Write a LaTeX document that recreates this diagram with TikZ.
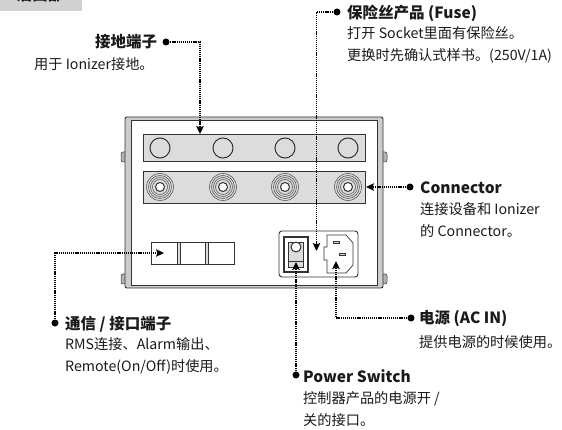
\documentclass[tikz,border=0pt]{standalone}
\usepackage{fontspec}
\setmainfont{Noto Sans CJK SC}
\usetikzlibrary{arrows.meta}
\definecolor{ink}{HTML}{1A1A1A}
\definecolor{panel}{HTML}{DCDCDC}
\definecolor{edge}{HTML}{333333}
\tikzset{
    heading/.style={anchor=west, inner sep=0pt, text=ink, font=\fontsize{15.5}{17}\selectfont\bfseries},
    detail/.style={anchor=west, inner sep=0pt, align=left, text=ink, font=\fontsize{14.2}{21.5}\selectfont},
    pin/.style={circle, fill=black, inner sep=0pt, minimum size=7pt},
    leader/.style={line width=1.2pt, dash pattern=on 1.2pt off 0.9pt, black},
    pointer/.style={leader, -{Stealth[length=8pt, width=7.5pt, inset=1.5pt]}},
    outline/.style={draw=edge, line width=0.9pt},
    ring/.style={draw=edge!80, line width=0.6pt},
    foot/.style={fill=gray!60, draw=edge, line width=0.5pt, rounded corners=2pt},
}
\begin{document}
\begin{tikzpicture}[x=1pt, y=-1pt]
    \useasboundingbox (0,0) rectangle (562,430);
    \def\binding {circle(13.5) circle(11.5) circle(9.5) circle(7.5)}

    % Header tab
    \fill[panel!95!black] (0,0) rectangle (82,11);
    \node[anchor=center, inner sep=0pt, text=ink, font=\fontsize{15.5}{17}\selectfont\bfseries] (tab) at (40,-5.5) {后面部};

    % Case with its feet
    \draw[foot] (127,152) rectangle (121,162);
    \draw[foot] (127,274) rectangle (121,284);
    \draw[foot] (381,152) rectangle (387,162);
    \draw[foot] (381,274) rectangle (387,284);
    \draw[outline, fill=gray!40, rounded corners=2pt] (125,117) rectangle (383,288);
    \draw[outline, fill=white] (131,120) rectangle (377,285);

    % Ground strip
    \draw[outline, fill=panel] (143,134) rectangle (365,161);
    \draw[edge, line width=1pt] (160,148) circle(10);
    \draw[edge, line width=1pt] (223,148) circle(10);
    \draw[edge, line width=1pt] (285,148) circle(10);
    \draw[edge, line width=1pt] (348,148) circle(10);

    % Connector strip
    \draw[outline, fill=panel] (143,171) rectangle (365,203);
    \draw[ring] (160,187) \binding;
    \draw[ring] (223,187) \binding;
    \draw[ring] (285,187) \binding;
    \draw[ring] (348,187) \binding;
    \draw[edge, line width=1pt, fill=white] (160,187) circle(4.5) (223,187) circle(4.5) (285,187) circle(4.5) (348,187) circle(4.5);

    % Communication ports
    \draw[outline, fill=white] (151,242) rectangle (234,264);
    \draw[draw=edge, line width=0.6pt, fill=panel] (177,242) rectangle (180,264);
    \draw[draw=edge, line width=0.6pt, fill=panel] (205,242) rectangle (208,264);

    % Power module
    \draw[outline, fill=white, rounded corners=3pt] (279,231) rectangle (358,277);
    \draw[edge, line width=1.5pt] (284,237) rectangle (308,272);
    \draw[edge, line width=0.9pt, fill=panel] (288,242) rectangle (303,267);
    \draw[edge, line width=1pt, fill=white] (296,247) circle(5);
    \draw[edge, line width=0.8pt] (288,261) -- (303,261);
    \draw[outline, line width=0.7pt] (327,235) -- (346,235) -- (353,243) -- (353,265) -- (346,273)
        -- (327,273) -- (327,260) -- (324,260) -- (324,247) -- (327,247) -- cycle;
    \draw[outline, line width=0.6pt, fill=panel] (333,241) rectangle (339,243);
    \draw[outline, line width=0.6pt, fill=panel] (339,253) rectangle (345,255);

    % Targets of the leaders
    \coordinate (groundend) at (200,134);
    \coordinate (groundbend) at (200,42);
    \coordinate (fuseend) at (316.5,251);
    \coordinate (fusebend) at (316.5,12);
    \coordinate (linkend) at (366,187);
    \coordinate (portend) at (164,253);
    \coordinate (portbend) at (55,253);
    \coordinate (acend) at (336,261);
    \coordinate (acbend) at (336,318);
    \coordinate (switchend) at (296,262);

    % Labels
    \node[heading] (groundtitle) at (95,42) {接地端子};
    \node[detail] (groundtext) at (34,64) {用于 Ionizer接地。};
    \node[pin] (groundpin) at (166,42) {};

    \node[heading] (fusetitle) at (347,13) {保险丝产品 (Fuse)};
    \node[detail] (fusetext) at (347,45) {打开 Socket里面有保险丝。\\更换时先确认式样书。(250V/1A)};
    \node[pin] (fusepin) at (337,12) {};

    \node[heading] (linktitle) at (420,188) {Connector};
    \node[detail] (linktext) at (420,220) {连接设备和 Ionizer\\的 Connector。};
    \node[pin] (linkpin) at (410,187) {};

    \node[heading] (porttitle) at (65,324) {通信 / 接口端子};
    \node[detail] (porttext) at (65,356) {RMS连接、Alarm输出、\\Remote(On/Off)时使用。};
    \node[pin] (portpin) at (55,323) {};

    \node[heading] (actitle) at (419,319) {电源 (AC IN)};
    \node[detail] (actext) at (419,342) {提供电源的时候使用。};
    \node[pin] (acpin) at (411,318) {};

    \node[heading] (switchtitle) at (303,376) {Power Switch};
    \node[detail] (switchtext) at (303,409) {控制器产品的电源开 /\\关的接口。};
    \node[pin] (switchpin) at (296,375) {};

    % Leaders
    \draw[pointer] (groundpin.center) -- (groundbend) -- (groundend);
    \draw[pointer] (fusepin.center) -- (fusebend) -- (fuseend);
    \draw[pointer] (linkpin.center) -- (linkend);
    \draw[pointer] (portpin.center) -- (portbend) -- (portend);
    \draw[pointer] (acpin.center) -- (acbend) -- (acend);
    \draw[pointer] (switchpin.center) -- (switchend);
\end{tikzpicture}
\end{document}
